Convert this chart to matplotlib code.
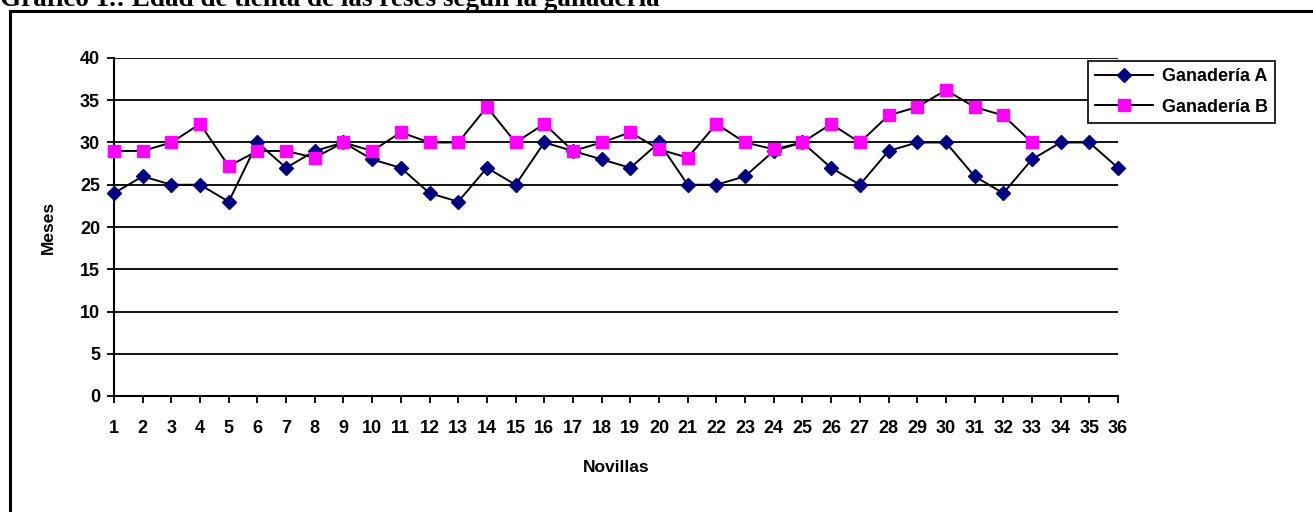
import matplotlib
matplotlib.use("Agg")
import matplotlib.pyplot as plt
from matplotlib.patches import Rectangle

# --- Datos ---
novillas = list(range(1, 37))
ganaderia_a = [24, 26, 25, 25, 23, 30, 27, 29, 30, 28, 27, 24, 23, 27, 25, 30, 29, 28,
               27, 30, 25, 25, 26, 29, 30, 27, 25, 29, 30, 30, 26, 24, 28, 30, 30, 27]
novillas_b = list(range(1, 34))
ganaderia_b = [29, 29, 30, 32.2, 27.2, 29, 29, 28.2, 30, 29, 31.2, 30, 30, 34.2, 30, 32.2, 29,
               30, 31.2, 29.2, 28.2, 32.2, 30, 29.2, 30, 32.2, 30, 33.2, 34.2, 36.2, 34.2, 33.2, 30]

TITLE = "Gráfico 1.: Edad de tienta de las reses según la ganadería"

plt.rcParams['font.family'] = ['Liberation Sans', 'DejaVu Sans']

W, H = 1313, 512
fig = plt.figure(figsize=(W / 100, H / 100), dpi=100)

# marco del gráfico (solo se ven borde izquierdo y superior)
fig.patches.append(Rectangle((9.5 / W, -0.1), 1.2, 1 - 10.5 / H + 0.1, transform=fig.transFigure,
                             fill=False, edgecolor='black', linewidth=2.2, zorder=0))

# título (cortado arriba, como en el original)
fig.text(0.0, 1 - 6.5 / H, TITLE, fontfamily='Liberation Serif', fontweight='bold',
         fontsize=19.5, va='baseline', ha='left')

ax = fig.add_axes([114 / W, 1 - 396 / H, (1118 - 114) / W, (396 - 58) / H])

ax.plot(novillas, ganaderia_a, color='black', linewidth=1.4, marker='D', markersize=7.5,
        markerfacecolor='#000080', markeredgecolor='#000080', clip_on=False, zorder=3,
        label='Ganadería A')
ax.plot(novillas_b, ganaderia_b, color='black', linewidth=1.4, marker='s', markersize=8.5,
        markerfacecolor='#FF00FF', markeredgecolor='#FF00FF', clip_on=False, zorder=4,
        label='Ganadería B')

ax.set_xlim(1, 36)
ax.set_ylim(0, 40)
ax.set_xticks(novillas)
ax.set_yticks(range(0, 41, 5))
ax.yaxis.grid(True, color='black', linewidth=1.3)
ax.set_axisbelow(True)
for s in ['top', 'right']:
    ax.spines[s].set_visible(False)
for s in ['left', 'bottom']:
    ax.spines[s].set_linewidth(1.5)
ax.tick_params(axis='both', direction='out', length=5, width=1.3, labelsize=13)
for lbl in ax.get_xticklabels() + ax.get_yticklabels():
    lbl.set_fontweight('bold')
ax.tick_params(axis='x', pad=12)
ax.tick_params(axis='y', pad=5)

ax.set_xlabel('Novillas', fontsize=12.5, fontweight='bold', labelpad=17)
ax.set_ylabel('Meses', fontsize=12.5, fontweight='bold', labelpad=17)

leg = ax.legend(loc='upper left', bbox_to_anchor=((1088 - 114) / (1118 - 114), 1 - (61 - 58) / (396 - 58)),
                frameon=True, fancybox=False, edgecolor='black', framealpha=1,
                prop={'weight': 'bold', 'size': 13}, handlelength=3.2, borderpad=0.4,
                labelspacing=0.75, handletextpad=0.5, borderaxespad=0)
leg.get_frame().set_linewidth(1.2)
leg.set_zorder(10)

fig.savefig('out.png', dpi=100)
